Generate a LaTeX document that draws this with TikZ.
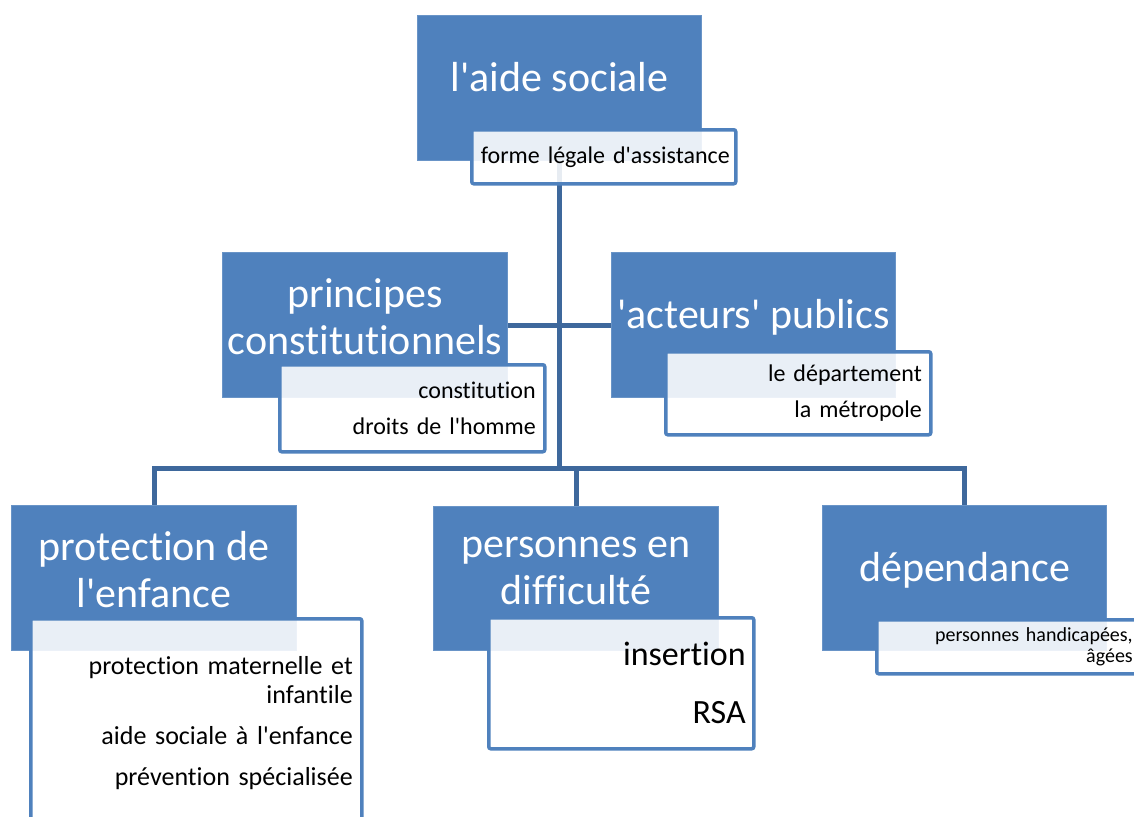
\documentclass[tikz,border=0pt]{standalone}
\usepackage{fontspec}
\newfontfamily\carlito{Carlito}[Ligatures=NoCommon]
\usetikzlibrary{positioning, backgrounds}

\definecolor{boxblue}{RGB}{79,129,189}
\definecolor{linkblue}{RGB}{62,104,156}

\newcommand{\titlefont}{\carlito\fontsize{42}{47}\selectfont}
\newcommand{\subfont}{\carlito\fontsize{24}{29}\selectfont}

\begin{document}
\begin{tikzpicture}[x=1pt, y=-1pt,
    titlebox/.style={fill=boxblue, draw=boxblue!85!white, line width=1pt, anchor=north west, inner sep=0pt},
    titletext/.style={text=white, font=\titlefont, align=center, yshift=8pt},
    subbox/.style={draw=boxblue, line width=3.5pt, rounded corners=2pt, fill=white, fill opacity=0.88, text opacity=1,
                   anchor=north west, align=right, inner xsep=9pt, inner ysep=0pt, font=\subfont},
    link/.style={draw=linkblue, line width=5pt}]

    \useasboundingbox (0,0) rectangle (1134,816);
    \coordinate (bus) at (0,468);

    % level 0
    \node[titlebox, minimum width=284pt, minimum height=145pt,
          label={[titletext, yshift=3pt]center:l'aide sociale}] (aide) at (417,15) {};
    \node[subbox, minimum width=264pt, minimum height=54pt, inner xsep=6pt, text width=252pt] (aideSub) at (470,128)
          {forme légale d'assistance};

    % level 1
    \node[titlebox, minimum width=285pt, minimum height=145pt,
          label={[titletext]center:principes\\constitutionnels}] (principes) at (222,252) {};
    \node[subbox, minimum width=265pt, minimum height=87pt, text width=247pt] (principesSub) at (278,363)
          {constitution\\[7pt]droits de l'homme};

    \node[titlebox, minimum width=284pt, minimum height=145pt,
          label={[titletext]center:'acteurs' publics}] (acteurs) at (611,252) {};
    \node[subbox, minimum width=265pt, minimum height=83pt, text width=247pt] (acteursSub) at (664,350)
          {le département\\[7pt]la métropole};

    % level 2
    \node[titlebox, minimum width=285pt, minimum height=145pt,
          label={[titletext]center:protection de\\l'enfance}] (enfance) at (11,505) {};
    \node[subbox, minimum width=331pt, minimum height=208pt, text width=313pt,
          font=\carlito\fontsize{26}{29}\selectfont] (enfanceSub) at (29,617)
          {protection maternelle et\\infantile\\[12pt]aide sociale à l'enfance\\[12pt]prévention spécialisée};

    \node[titlebox, minimum width=285pt, minimum height=144pt,
          label={[titletext]center:personnes en\\difficulté}] (difficulte) at (433,506) {};
    \node[subbox, minimum width=265pt, minimum height=131pt, text width=249pt, inner xsep=8pt,
          font=\carlito\fontsize{34}{42}\selectfont] (difficulteSub) at (487,616)
          {insertion\\[16pt]RSA};

    \node[titlebox, minimum width=284pt, minimum height=145pt,
          label={[titletext]center:dépendance}] (dependance) at (822,505) {};
    \node[subbox, minimum width=265pt, minimum height=54pt, text width=247pt,
          font=\carlito\fontsize{20}{21}\selectfont] (dependanceSub) at (875,618)
          {personnes handicapées,\\âgées};

    % connectors
    \begin{scope}[on background layer]
        \draw[link] (aide.south) -- (aide.south |- bus);
        \draw[link] (principes.east) -- (acteurs.west);
        \draw[link] (enfance.north) -- (enfance.north |- bus) -- (dependance.north |- bus) -- (dependance.north);
        \draw[link] (difficulte.north) -- (difficulte.north |- bus);
    \end{scope}
\end{tikzpicture}
\end{document}
